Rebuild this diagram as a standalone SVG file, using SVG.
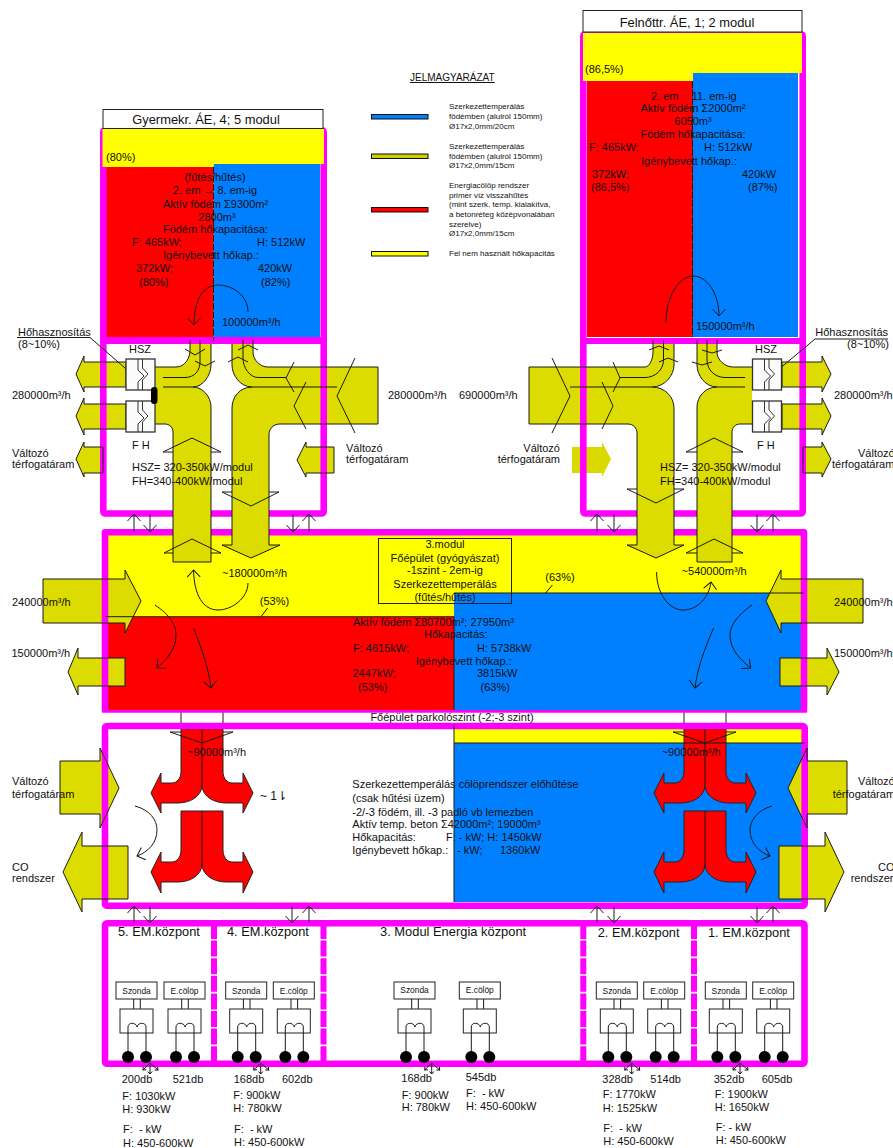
<svg xmlns="http://www.w3.org/2000/svg" xmlns:xlink="http://www.w3.org/1999/xlink" width="893" height="1148" viewBox="0 0 893 1148">
<style>
text{font-family:"Liberation Sans",Arial,sans-serif;font-size:11px;fill:#111}
.c{text-anchor:middle}.e{text-anchor:end}
.t{font-size:12.9px}.em{font-size:12.8px}.lg{font-size:8px}.box{font-size:8.4px}
.mg{fill:none;stroke:#ff00ff;stroke-width:6.6;stroke-linejoin:round}
.sep{fill:none;stroke:#ff00ff;stroke-width:6;stroke-dasharray:16 1.6}
.ol{fill:#dddc00}
.ln{fill:none;stroke:#1a1a1a;stroke-width:1}
.rd{fill:#ff0000;stroke:#222;stroke-width:1}
.bx{fill:#fff;stroke:#222;stroke-width:1}
.ar{marker-end:url(#v)}
.sa{marker-end:url(#s)}
</style>
<defs>
<marker id="v" markerUnits="userSpaceOnUse" markerWidth="16" markerHeight="16" refX="8" refY="8" orient="auto" overflow="visible"><path d="M1 1.500L8 8L1 14.500" fill="none" stroke="#1a1a1a" stroke-width="1"/></marker>
<marker id="s" markerUnits="userSpaceOnUse" markerWidth="6" markerHeight="6" refX="3" refY="3" orient="auto" overflow="visible"><path d="M0.500 0.800L3 3L0.500 5.200" fill="none" stroke="#111" stroke-width="1"/></marker>
<g id="hx"><rect width="29" height="31" fill="#fbfbfb" stroke="#333" stroke-width="1.3"/><path d="M12 0V11L18 17L12 23V31M16.500 0V9L22 15L16.500 21V31" fill="none" stroke="#333" stroke-width="1"/></g>
<g id="unit"><rect class="bx" x="0" y="982" width="41" height="17"/><path class="ln" d="M17.700 999V1009M24.300 999V1009"/><rect class="bx" x="4" y="1009" width="33" height="24"/><path class="ln" d="M12 1057V1027C12 1022 20 1022 21 1027C22 1022 30 1022 30 1027V1057"/><circle cx="12" cy="1057" r="6" fill="#000"/><circle cx="30" cy="1057" r="6" fill="#000"/></g>
<g id="tri"><path class="ln sa" d="M0 0L-7 7"/><path class="ln sa" d="M0 0V11"/><path class="ln sa" d="M0 0L8 7"/></g>
<g id="red"><path class="rd" d="M181 729V772C181 778 177 783 172 783H161V773L151 793L161 813V803H177C192 803 202 795 202 785C202 795 212 803 227 803H243V813L253 793L243 773V783H232C227 783 223 778 223 772V729Z"/><path class="rd" d="M181 811V850C181 857 177 862 172 862H161V852L151 872L161 893V882H177C192 882 202 874 202 864C202 874 212 882 227 882H243V893L253 872L243 852V862H232C227 862 223 857 223 850V811Z"/><path class="ln" d="M181 712V729M223 712V729M202 725V785M202 811V864M170 732L202 743L233 732H223M181 732H170"/></g>
<g id="arrows">
<path d="M126 362H84V356L76 374L84 392V387H126Z"/><path d="M126 404H84V398L76 416L84 435V429H126Z"/><path d="M103 447H84V442L76 459L84 477V473H103Z"/>
<path d="M334 447H306V442L297 460L306 477V473H334Z"/>
<path d="M782 362H822V356L831 374L822 392V387H782Z"/><path d="M782 404H822V398L831 416L822 435V429H782Z"/><path d="M803 447H822V442L831 459L822 477V473H803Z"/>
<path d="M43 579H125V570L141 601L125 633V623H43Z"/><path d="M125 658H78V648L68 672L78 695V686H125Z"/>
<path d="M863 579H781V570L766 601L781 633V623H863Z"/><path d="M780 658H827V648L839 672L827 695V686H780Z"/>
<path d="M60 761H100V748L119 788L100 828V814H60Z"/><path d="M128 846H82V832L63 872L82 912V899H128Z"/>
<path d="M847 761H807V748L788 788L807 828V814H847Z"/><path d="M779 846H825V832L844 872L825 912V899H779Z"/>
</g>
</defs>

<g id="fills">
<rect x="106" y="167" width="107.500" height="170" fill="#ff0000"/><rect x="213.500" y="164" width="106.500" height="173" fill="#0080ff"/>
<rect x="587" y="81" width="106" height="256" fill="#ff0000"/><rect x="693" y="73" width="105" height="264" fill="#0080ff"/>
<rect x="108" y="535" width="694" height="82" fill="#ffff00"/><rect x="108" y="617" width="346" height="93" fill="#ff0000"/><rect x="454" y="593" width="348" height="117" fill="#0080ff"/>
<rect x="454" y="729" width="348" height="14" fill="#ffff00"/><rect x="454" y="743" width="348" height="159" fill="#0080ff"/>
</g>

<g id="connectors">
<g class="ol"><use xlink:href="#arrows"/>
<path d="M154 367H176C185 367 190 358 190 350V340H211V365C211 375 203 387 193 387C203 387 211 397 211 407V562H173V432C173 427 169 424 165 424H154Z"/>
<path d="M378 367H268C260 367 253 360 253 352V340H232V365C232 375 240 387 252 387C240 387 232 397 232 408V545H222L251 558L280 545H269V435C269 428 274 424 280 424H378Z"/>
<path d="M529 367H645C650 367 653 358 653 352V340H674V365C674 375 665 387 652 387C665 387 674 397 674 408V545H684L656 558L627 545H637V433C637 428 633 424 628 424H529Z"/>
<path d="M752 367H733C725 367 717 360 717 352V340H697V365C697 375 705 387 717 387C705 387 697 397 697 407V562H732V432C732 427 736 424 740 424H752Z"/>
<path d="M572 447H602V442L611 459L602 477V473H572Z" fill="#d9d900"/>
</g>
<use xlink:href="#red"/><use xlink:href="#red" x="503"/>
</g>

<g id="frames">
<rect class="mg" x="103.300" y="130" width="220.400" height="383.500" rx="2"/><rect x="100" y="337" width="227" height="7" fill="#ff00ff"/>
<rect class="mg" x="583.300" y="34" width="219.400" height="479.500" rx="2"/><rect x="580" y="338" width="226" height="6" fill="#ff00ff"/>
<path class="mg" d="M105 710V532.300H804V710"/><rect x="101.700" y="710" width="705.600" height="2.700" rx="1" fill="#ff00ff"/>
<rect class="mg" x="105" y="726" width="699.700" height="179.700" rx="2"/>
<rect class="mg" x="105" y="923.300" width="699.500" height="140.500" rx="2"/>
<path class="sep" d="M214 923V1064M323.500 923V1064M583.300 923V1064M694 923V1064"/>
<rect x="102.500" y="129" width="221.500" height="35" fill="#ffff00"/><rect x="102.500" y="164" width="111" height="3" fill="#ffff00"/>
<rect x="583" y="33" width="219" height="40" fill="#ffff00"/><rect x="583" y="73" width="110" height="8" fill="#ffff00"/>
<g class="ol"><rect x="173" y="509" width="38" height="27"/><rect x="232" y="509" width="37" height="27"/><rect x="637" y="509" width="37" height="27"/><rect x="697" y="509" width="35" height="27"/></g>
</g>

<g id="duct-lines" class="ln">
<use xlink:href="#arrows" fill="none"/>
<path d="M154 367H176C185 367 190 358 190 350V340M163 377.500H185C195 377.500 200 370 200 362V340M163 387H193C203 387 211 375 211 365V344M193 387C203 387 211 397 211 407V562H173V432C173 427 169 424 165 424H154"/>
<path d="M253 340V352C253 360 260 367 268 367H378V424H280C274 424 269 428 269 435V545H280L251 558L222 545H232V408C232 397 240 387 252 387H337M232 344V365C232 375 240 387 252 387M243 340V358C243 368 250 377.500 258 377.500H286"/>
<path d="M653 340V352C653 358 650 367 645 367H529V424H628C633 424 637 428 637 433V545H627L656 558L684 545H674V408C674 397 665 387 652 387H570M674 344V365C674 375 665 387 652 387M663.500 340V360C663.500 370 655 377.500 645 377.500H620"/>
<path d="M717 340V352C717 360 725 367 733 367H752M707 340V360C707 370 715 377.500 725 377.500H745M697 340V365C697 375 705 387 717 387H745M717 387C705 387 697 397 697 407V562H732V432C732 427 736 424 740 424H752"/>
<path d="M163 452L192 438L221 452H211M173 452H163M164 553L192 539L221 553H211M173 553H164M222 492L251 506L279 492H269M232 492H222"/>
<path d="M627 489L656 503L684 489H674M637 489H627M686 452L714 438L743 452H732M697 452H686M686 553L714 539L743 553H732M697 553H686"/>
<path d="M355 358L337 396L355 433M294 362L286 378L294 392M306 382L294 406L306 429M552 358L570 396L552 433M613 362L620 378L613 392M602 382L613 406L602 429"/>
<path d="M185 349L195 355L205 349M195 361L205 366L215 361M228 362L238 357L248 362M238 350L248 345L258 350M649 350L659 346L669 350M659 362L668 358L678 362M692 362L702 365L712 362M702 350L712 353L722 350"/>
<path d="M213.500 167V341M692.500 81V337" stroke-dasharray="7 1.500"/>
<path d="M105 616.700H454V710M454 593H804M454 725V902M454 743H805"/>
<path d="M261 616.700L267.600 608M545.500 593L552.400 585"/>
<path d="M17 337.500H90L133 375M888 339H815L772 375"/>
</g>
<g id="flow-arrows" class="ln">
<path class="ar" d="M248 312C248 295 232 285 218 285C203 285 194 300 194 325"/>
<path class="ar" d="M666 323C666 295 680 276 693 276C708 276 719 295 719 316"/>
<path class="ar" d="M248 583C248 598 232 610 218 610C203 610 194 595 193.600 570"/>
<path class="ar" d="M155 605C170 615 176 625 176 635C176 650 166 660 157 668"/>
<path class="ar" d="M193.600 628C202 650 209 670 211 688"/>
<path class="ar" d="M656.600 572C656.600 595 670 610 683 610C698 610 709 597 711 582"/>
<path class="ar" d="M752 605C738 615 730 625 730 635C730 650 741 660 750.600 668"/>
<path class="ar" d="M713.600 628C704 650 697 670 695 688"/>
<path class="ar" d="M135 806C150 810 157 820 157 830C157 843 148 852 137 856"/>
<path class="ar" d="M772 806C758 810 750 820 750 830C750 843 759 852 770 856"/>
<path class="ar" d="M134 532V514"/><path class="ar" d="M150 514V532"/><path class="ar" d="M293 514V532"/><path class="ar" d="M309 532V514"/>
<path class="ar" d="M597 532V514"/><path class="ar" d="M614 514V532"/><path class="ar" d="M757 514V532"/><path class="ar" d="M773 532V514"/>
<path class="ar" d="M134 923V906"/><path class="ar" d="M150 906V923"/><path class="ar" d="M292 906V923"/><path class="ar" d="M309 923V906"/>
<path class="ar" d="M597 923V906"/><path class="ar" d="M614 906V923"/><path class="ar" d="M757 906V923"/><path class="ar" d="M773 923V906"/>
</g>
<g id="hx-units"><use xlink:href="#hx" x="126" y="359"/><use xlink:href="#hx" x="126" y="401"/><use xlink:href="#hx" x="752.500" y="359"/><use xlink:href="#hx" x="752.500" y="401"/></g>
<rect id="pill" x="151" y="387" width="6.500" height="17" rx="3.200" fill="#000"/>

<g id="legend">
<text x="410" y="81" style="font-size:10px" text-decoration="underline">JELMAGYARÁZAT</text>
<g stroke="#111" stroke-width="1"><rect x="371.500" y="114.500" width="56.500" height="4.500" fill="#0080ff"/><rect x="371.500" y="154" width="56.500" height="4.500" fill="#d0ce00"/><rect x="371.500" y="207.500" width="56.500" height="4.500" fill="#ff0000"/><rect x="371.500" y="251.500" width="56.500" height="4.500" fill="#ffff00"/></g>
<g><text class="lg" x="449" y="109">Szerkezettemperálás</text><text class="lg" x="449" y="119">födémben (alulról 150mm)</text><text class="lg" x="449" y="129">Ø17x2,0mm/20cm</text>
<text class="lg" x="449" y="149">Szerkezettemperálás</text><text class="lg" x="449" y="159">födémben (alulról 150mm)</text><text class="lg" x="449" y="168">Ø17x2,0mm/15cm</text>
<text class="lg" x="449" y="188">Energiacölöp rendszer</text><text class="lg" x="449" y="198">primer víz visszahűtés</text><text class="lg" x="449" y="207">(mint szerk. temp. kialakítva,</text><text class="lg" x="449" y="217">a betonréteg középvonalában</text><text class="lg" x="449" y="227">szerelve)</text><text class="lg" x="449" y="236">Ø17x2,0mm/15cm</text>
<text class="lg" x="449" y="256">Fel nem használt hőkapacitás</text></g>
</g>

<g id="module-gyermek">
<rect class="bx" x="103" y="109.500" width="220" height="19"/>
<text class="t c" x="206" y="124">Gyermekr. ÁE, 4; 5 modul</text>
<text x="106" y="161">(80%)</text>
<text class="c" x="215" y="180.500">(fűtés/hűtés)</text>
<text class="c" x="215" y="194">2. em → 8. em-ig</text>
<text class="c" x="215.500" y="207.500">Aktív födém Σ9300m²</text>
<text class="c" x="217" y="220.500">2800m³</text>
<text class="c" x="215.500" y="233">Födém hőkapacitása:</text>
<text x="132" y="246">F: 465kW;</text><text x="257" y="246">H: 512kW</text>
<text class="c" x="211" y="259">Igénybevett hőkap.:</text>
<text x="136" y="272">372kW;</text><text x="258" y="272">420kW</text>
<text x="139" y="285.500">(80%)</text><text x="261" y="285.500">(82%)</text>
<text x="222" y="326">100000m³/h</text>
<text x="18" y="336">Hőhasznosítás</text><text x="18" y="348">(8~10%)</text>
<text x="129" y="353">HSZ</text><text x="132" y="449">F H</text>
<text x="12" y="399">280000m³/h</text><text x="388" y="399">280000m³/h</text>
<text x="12" y="457">Változó</text><text x="12" y="468">térfogatáram</text>
<text x="346" y="452">Változó</text><text x="346" y="463">térfogatáram</text>
<text x="132" y="471">HSZ= 320-350kW/modul</text><text x="132" y="485">FH=340-400kW/modul</text>
</g>

<g id="module-felnott">
<rect class="bx" x="583" y="10.500" width="219" height="21.500"/>
<text class="t c" x="687" y="27">Felnőttr. ÁE, 1; 2 modul</text>
<text x="585" y="73">(86,5%)</text>
<text x="651" y="99.500">2. em</text><text x="691.700" y="99.500">11. em-ig</text>
<text class="c" x="693" y="112">Aktív födém Σ2000m²</text>
<text class="c" x="693" y="125">6050m³</text>
<text class="c" x="693" y="138">Födém hőkapacitása:</text>
<text x="589" y="151">F: 465kW;</text><text x="704" y="151">H: 512kW</text>
<text class="c" x="689" y="165">Igénybevett hőkap.:</text>
<text x="592" y="178">372kW;</text><text x="742" y="178">420kW</text>
<text x="591" y="191">(86,5%)</text><text x="748" y="191">(87%)</text>
<text x="696" y="330">150000m³/h</text>
<text class="e" x="888" y="336">Hőhasznosítás</text><text x="847" y="348">(8~10%)</text>
<text x="755" y="353">HSZ</text><text x="757" y="449">F H</text>
<text x="459" y="399">690000m³/h</text><text x="834" y="399">280000m³/h</text>
<text class="e" x="560" y="452">Változó</text><text class="e" x="560" y="463">térfogatáram</text>
<text x="858" y="457">Változó</text><text x="832" y="468">térfogatáram</text>
<text x="660" y="471">HSZ= 320-350kW/modul</text><text x="660" y="485">FH=340-400kW/modul</text>
</g>

<g id="module-fo">
<rect x="378.500" y="538.500" width="133" height="65" fill="none" stroke="#222"/>
<text class="c" x="445" y="548">3.modul</text><text class="c" x="445" y="561.700">Főépület (gyógyászat)</text><text class="c" x="445" y="574">-1szint - 2em-ig</text><text class="c" x="445" y="588.300">Szerkezettemperálás</text><text class="c" x="445" y="601">(fűtés/hűtés)</text>
<text class="c" x="274.500" y="605">(53%)</text><text class="c" x="560" y="581">(63%)</text>
<text x="222" y="577">~180000m³/h</text><text x="681.600" y="575">~540000m³/h</text>
<text x="12" y="606">240000m³/h</text><text x="11.500" y="657">150000m³/h</text><text x="834" y="606">240000m³/h</text><text x="834" y="657">150000m³/h</text>
<text x="353" y="625.700">Aktív födém Σ80700m²; 27950m³</text><text x="424" y="638">Hőkapacitás:</text>
<text x="353" y="651.700">F: 4615kW;</text><text x="477" y="651.700">H: 5738kW</text>
<text x="415.700" y="664.700">Igénybevett hőkap.:</text>
<text x="352.500" y="677.300">2447kW;</text><text x="477" y="677.300">3815kW</text>
<text x="358" y="690.700">(53%)</text><text x="480.600" y="690.700">(63%)</text>
<text class="c" x="452" y="721">Főépület parkolószint (-2;-3 szint)</text>
</g>

<g id="module-parkolo">
<text x="187" y="756">~90000m³/h</text><text x="661.700" y="756">~90000m³/h</text>
<text x="260" y="800" style="font-size:12px;font-family:'Liberation Sans','DejaVu Sans',sans-serif">~ 1⇂</text>
<text x="352.300" y="788">Szerkezettemperálás cölöprendszer előhűtése</text>
<text x="352.300" y="802">(csak hűtési üzem)</text>
<text x="352.300" y="816">-2/-3 födém, ill. -3 padló vb lemezben</text>
<text x="352.300" y="828">Aktív temp. beton Σ42000m²; 19000m³</text>
<text x="352.300" y="841">Hőkapacitás:</text><text x="446" y="841">F: - kW; H: 1450kW</text>
<text x="352.300" y="854">Igénybevett hőkap.:</text><text x="457" y="854">- kW;</text><text x="500" y="854">1360kW</text>
<text x="12" y="785">Változó</text><text x="12" y="797.700">térfogatáram</text><text x="12" y="870.700">CO</text><text x="12" y="882">rendszer</text>
<text x="858" y="785">Változó</text><text x="832.700" y="797.700">térfogatáram</text><text x="878" y="870.700">CO</text><text x="850.700" y="882">rendszer</text>
</g>

<g id="em-5"><text class="em" x="118" y="936">5. EM.központ</text>
<use xlink:href="#unit" x="116"/><use xlink:href="#unit" x="164"/><text class="box c" x="136.500" y="993.500">Szonda</text><text class="box c" x="184.500" y="993.500">E.cölöp</text><use xlink:href="#tri" x="150" y="1063"/>
<text x="121.700" y="1083">200db</text><text x="172.700" y="1083">521db</text><text x="122.300" y="1100">F: 1030kW</text><text x="122.300" y="1113">H: 930kW</text><text x="123" y="1133" xml:space="preserve">F:  - kW</text><text x="123" y="1147">H: 450-600kW</text></g>
<g id="em-4"><text class="em" x="227" y="936">4. EM.központ</text>
<use xlink:href="#unit" x="225.700"/><use xlink:href="#unit" x="273.300"/><text class="box c" x="246.200" y="993.500">Szonda</text><text class="box c" x="293.800" y="993.500">E.cölöp</text><use xlink:href="#tri" x="260.700" y="1063"/>
<text x="233.700" y="1083">168db</text><text x="282" y="1083">602db</text><text x="233.300" y="1099">F: 900kW</text><text x="233.300" y="1112">H: 780kW</text><text x="234" y="1133" xml:space="preserve">F:  - kW</text><text x="234" y="1146">H: 450-600kW</text></g>
<g id="em-3"><text class="t" x="380" y="936">3. Modul Energia központ</text>
<use xlink:href="#unit" x="394"/><use xlink:href="#unit" x="459.300"/><text class="box c" x="414.500" y="992.500">Szonda</text><text class="box c" x="479.800" y="992.500">E.cölöp</text><use xlink:href="#tri" x="431.700" y="1063"/>
<text x="401.300" y="1082">168db</text><text x="465.700" y="1081">545db</text><text x="401.700" y="1098.500">F: 900kW</text><text x="401.700" y="1111">H: 780kW</text><text x="466" y="1097" xml:space="preserve">F:  - kW</text><text x="466" y="1110">H: 450-600kW</text></g>
<g id="em-2"><text class="em" x="597.700" y="936.700">2. EM.központ</text>
<use xlink:href="#unit" x="596.300"/><use xlink:href="#unit" x="643.700"/><text class="box c" x="616.800" y="993.500">Szonda</text><text class="box c" x="664.200" y="993.500">E.cölöp</text><use xlink:href="#tri" x="631.700" y="1063"/>
<text x="602.300" y="1083">328db</text><text x="650.300" y="1083">514db</text><text x="602.700" y="1098">F: 1770kW</text><text x="602.700" y="1112">H: 1525kW</text><text x="603.300" y="1132" xml:space="preserve">F:  - kW</text><text x="603.300" y="1145">H: 450-600kW</text></g>
<g id="em-1"><text class="em" x="708" y="936.700">1. EM.központ</text>
<use xlink:href="#unit" x="705.300"/><use xlink:href="#unit" x="752.700"/><text class="box c" x="725.800" y="993.500">Szonda</text><text class="box c" x="773.200" y="993.500">E.cölöp</text><use xlink:href="#tri" x="740" y="1063"/>
<text x="713.700" y="1083">352db</text><text x="761.700" y="1083">605db</text><text x="714.700" y="1098">F: 1900kW</text><text x="714.700" y="1111">H: 1650kW</text><text x="715.700" y="1131">F: - kW</text><text x="715.700" y="1144">H: 450-600kW</text></g>
</svg>
